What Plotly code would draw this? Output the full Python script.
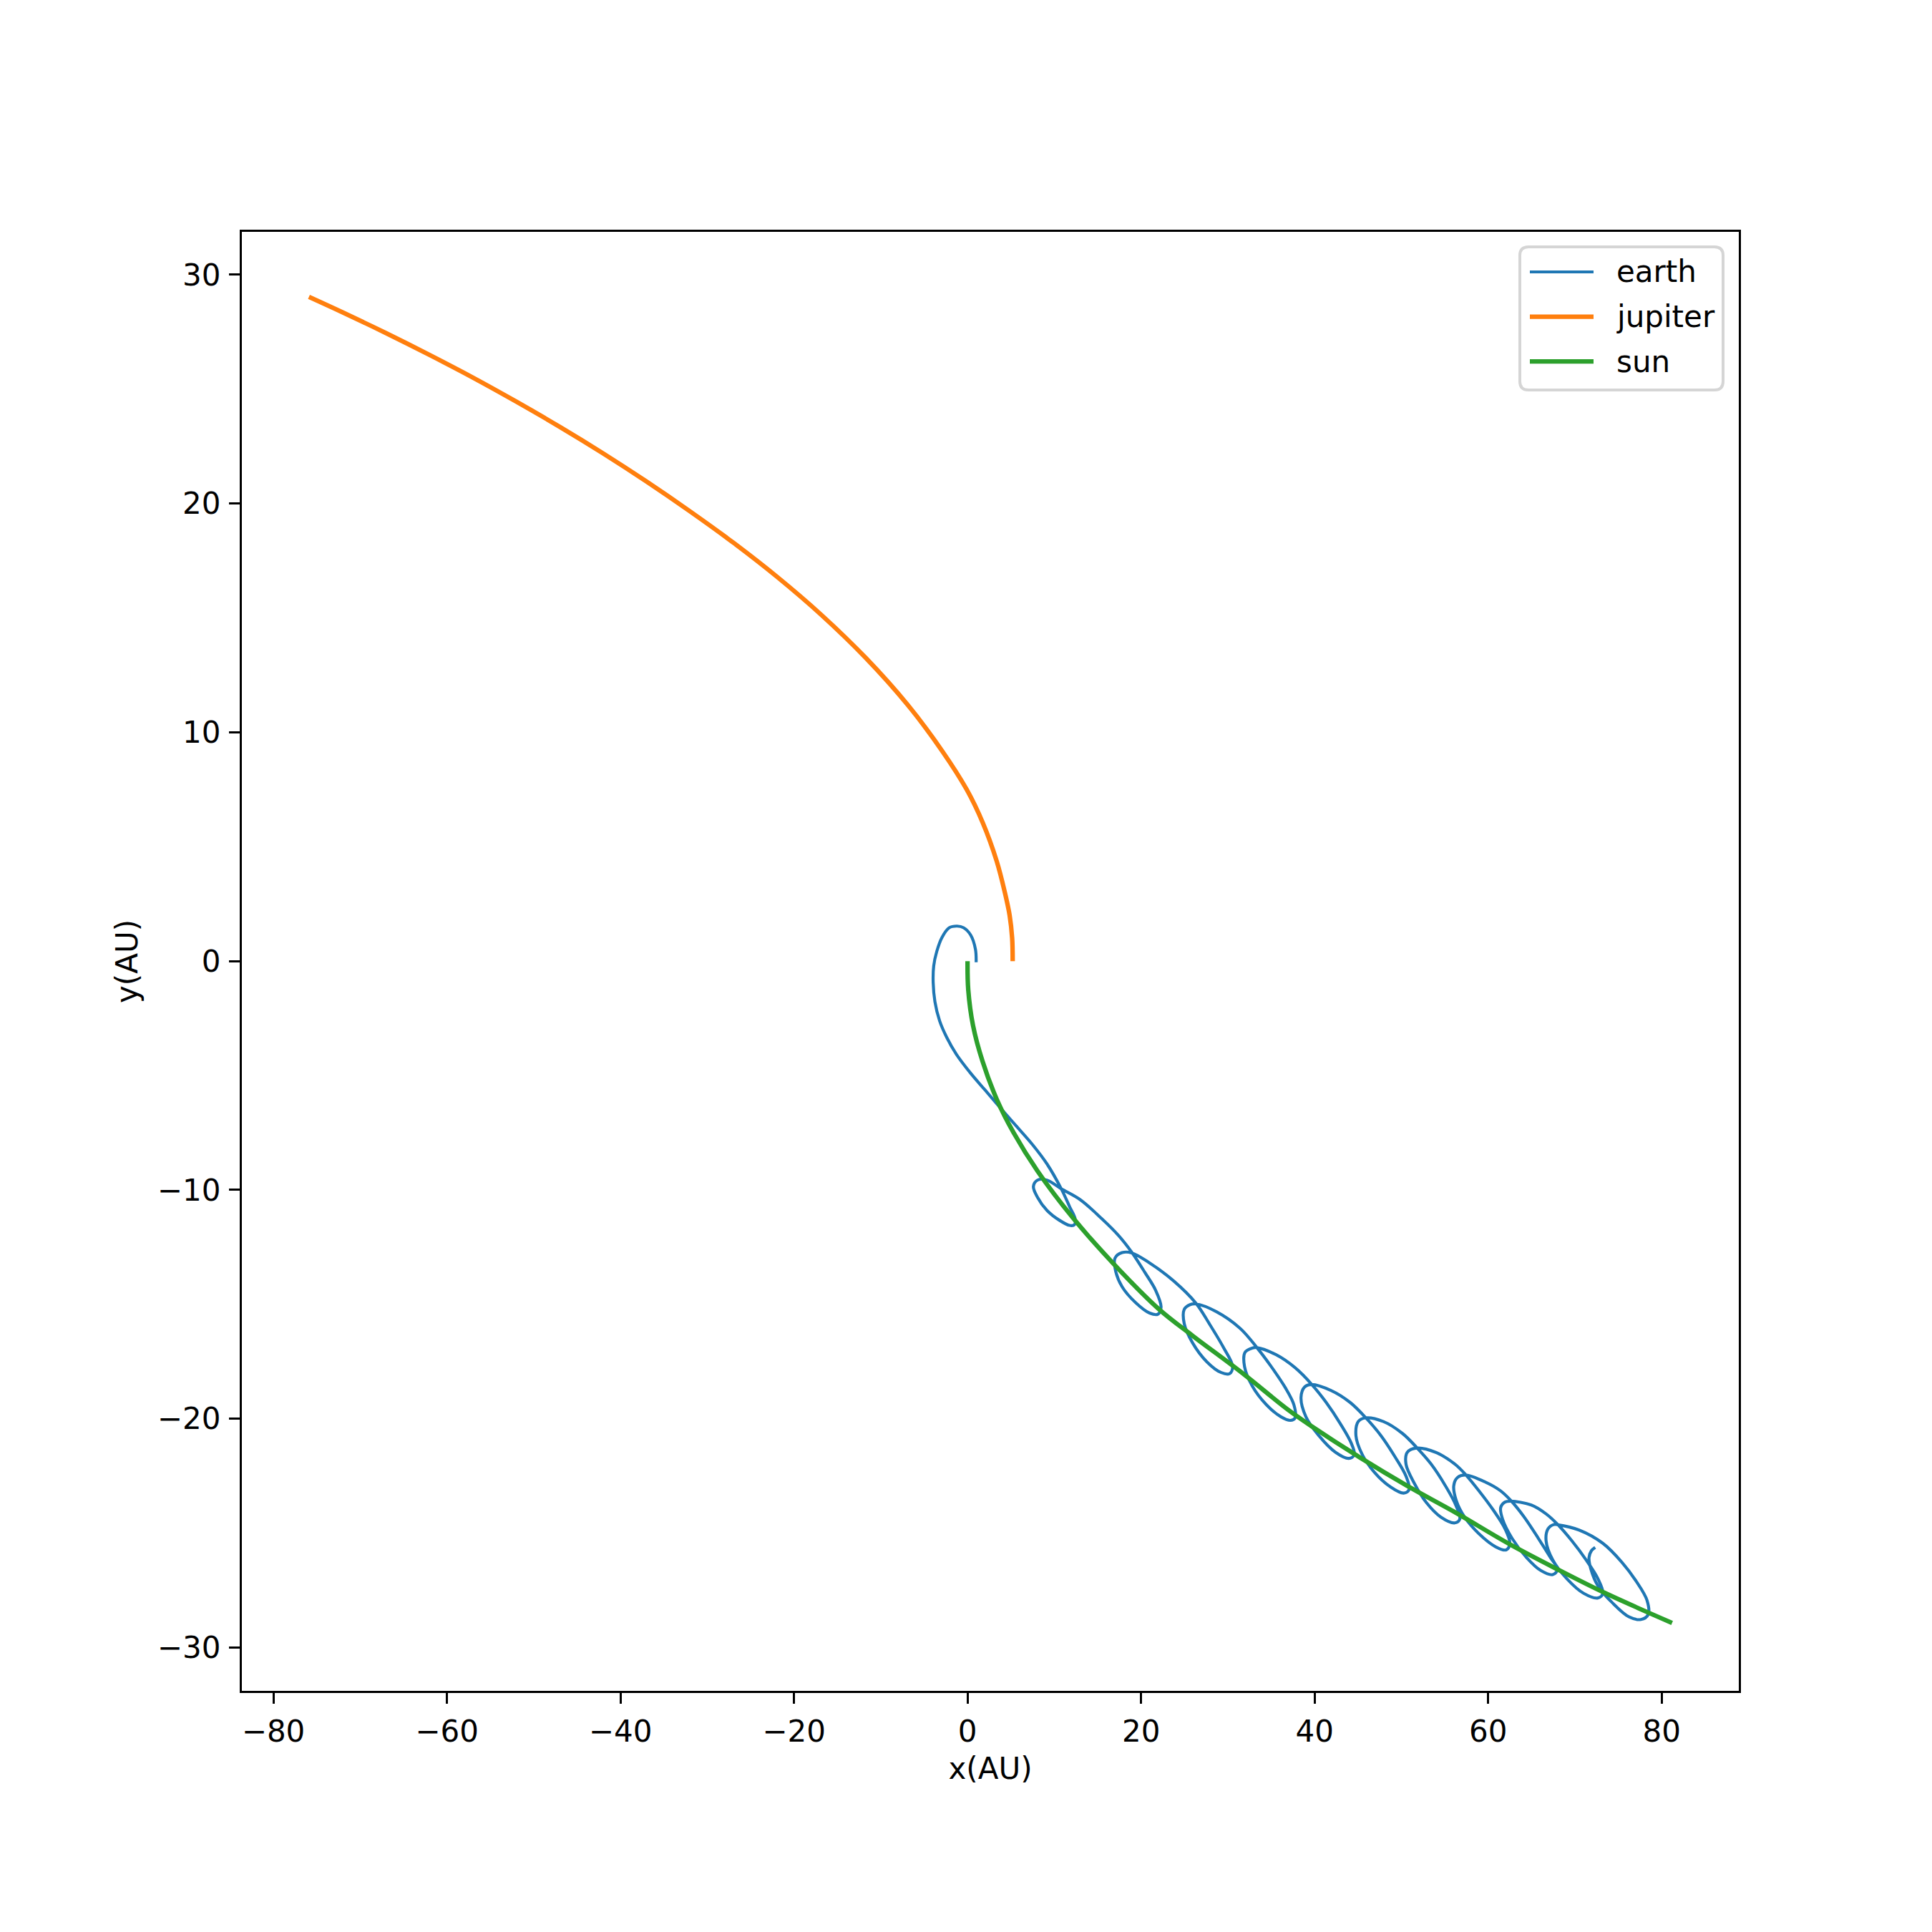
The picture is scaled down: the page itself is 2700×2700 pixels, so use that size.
import plotly.graph_objects as go

# ---------------- data (AU) ----------------
sun_x = [0.0, 0.08, 0.63, 1.73, 3.38, 5.31, 8.06, 12.1, 16.86, 22.08, 25.93, 31.42,
         36.92, 39.67, 45.17, 50.67, 56.16, 62.47, 67.99, 73.49, 81.19]
sun_y = [0.0, -1.25, -2.81, -4.38, -6.05, -7.50, -9.17, -11.2, -13.24, -15.22, -16.37, -17.93,
         -19.6, -20.33, -21.68, -22.93, -24.08, -25.48, -26.58, -27.62, -28.92]

jupiter_x = [5.2, 5.14, 4.85, 4.3, 3.35, 1.75, -0.1, -2.9, -6.9, -11.7, -16.9, -22.0,
             -27.0, -32.0, -37.0, -42.0, -47.0, -52.0, -57.0, -62.0, -67.0, -72.0, -75.9]
jupiter_y = [0.0, 1.0, 2.0, 3.0, 4.38, 6.05, 7.5, 9.17, 11.2, 13.24, 15.15, 16.81,
             18.29, 19.66, 20.96, 22.19, 23.35, 24.45, 25.50, 26.49, 27.44, 28.35, 29.03]

earth_x = [0.99, 0.91, 0.36, -0.46, -1.2, -2.11, -2.94, -3.55, -3.90, -3.96, -3.76, -3.22, -2.39,
           -1.29, 0.36, 2.01, 3.66, 5.58, 7.51, 9.15, 10.80,
           11.77, 12.40, 12.32, 11.77, 10.53, 9.15, 8.06, 7.59, 8.06, 9.15, 10.80, 13.0, 15.48, 17.40, 18.92,
           20.43, 21.67, 22.30, 21.94, 20.98, 19.33, 17.81, 17.07, 16.99, 17.81, 18.92, 20.98, 23.73, 26.34,
           27.85, 29.50, 30.55, 30.19, 29.23, 27.58, 25.93, 24.97, 24.97, 25.65, 26.34, 28.68, 31.42, 33.35,
           35.0, 36.65, 37.61, 37.75, 37.2, 36.1, 34.45, 32.80, 31.92, 31.97, 32.80, 33.35, 35.55, 37.75, 39.67,
           41.32, 42.97, 44.21, 44.57, 43.93, 42.42, 40.49, 38.99, 38.43, 38.85, 39.67, 41.87, 44.07, 45.86,
           47.65, 49.29, 50.53, 50.89, 50.26, 48.74, 46.82, 45.44, 44.76, 45.03, 45.86, 47.92, 50.12, 51.77,
           53.42, 55.07, 56.31, 56.72, 56.16, 54.52, 52.87, 51.50, 50.53, 50.67, 51.77, 53.97, 56.16, 57.40,
           58.92, 60.57, 61.94, 62.49, 62.08, 60.84, 58.92, 57.27, 56.31, 56.03, 56.45, 57.40, 59.74, 61.39, 62.63,
           64.14, 65.79, 67.17, 67.99, 67.44, 66.06, 64.41, 62.76, 61.66, 61.44, 61.94, 62.63, 64.96, 66.61, 67.99,
           69.64, 71.29, 72.66, 73.21, 72.66, 71.01, 69.09, 67.44, 66.67, 66.89, 67.58, 67.99, 70.47, 73.21,
           75.41, 77.06, 78.30, 78.43, 77.61, 76.24, 74.31, 72.66, 71.84, 71.62, 71.89, 72.33]
earth_y = [-0.05, 0.52, 1.14, 1.46, 1.53, 1.46, 1.04, 0.42, -0.21, -0.94, -1.77, -2.61, -3.34,
           -4.07, -4.90, -5.63, -6.36, -7.19, -8.03, -8.86, -9.95,
           -10.74, -11.26, -11.52, -11.55, -11.31, -10.89, -10.32, -9.85, -9.57, -9.57, -9.95, -10.43, -11.26, -11.99, -12.72,
           -13.60, -14.38, -15.12, -15.43, -15.38, -14.91, -14.23, -13.55, -12.98, -12.74, -12.75, -13.19, -13.97, -14.96,
           -15.84, -16.89, -17.72, -18.03, -17.98, -17.51, -16.68, -15.84, -15.22, -15.01, -14.98, -15.32, -16.05, -16.89,
           -17.72, -18.66, -19.39, -19.96, -20.07, -19.91, -19.39, -18.56, -17.72, -17.10, -16.91, -16.89, -17.20, -17.77, -18.50,
           -19.28, -20.22, -21.06, -21.58, -21.73, -21.47, -20.74, -19.91, -19.07, -18.61, -18.50, -18.76, -19.28, -19.94,
           -20.74, -21.68, -22.51, -23.09, -23.25, -22.98, -22.31, -21.53, -20.74, -20.12, -19.96, -20.12, -20.64, -21.26,
           -21.98, -22.93, -23.81, -24.39, -24.55, -24.29, -23.66, -22.83, -21.99, -21.47, -21.28, -21.47, -21.98, -22.44,
           -23.14, -23.98, -24.81, -25.44, -25.73, -25.59, -25.02, -24.29, -23.56, -22.93, -22.57, -22.46, -22.78, -23.14, -23.58,
           -24.29, -25.23, -26.06, -26.58, -26.81, -26.63, -26.06, -25.23, -24.39, -23.88, -23.64, -23.60, -23.77, -24.14, -24.61,
           -25.33, -26.17, -27.00, -27.63, -27.83, -27.63, -27.00, -26.17, -25.33, -24.81, -24.62, -24.63, -24.86, -25.44,
           -26.27, -27.10, -27.93, -28.56, -28.77, -28.66, -28.04, -27.31, -26.58, -26.06, -25.77, -25.62]

series_names = ["earth", "jupiter", "sun"]
series_colors = ["#1f77b4", "#ff7f0e", "#2ca02c"]
x_ticks = [-80, -60, -40, -20, 0, 20, 40, 60, 80]
y_ticks = [-30, -20, -10, 0, 10, 20, 30]

# ---------------- figure ----------------
# The page body has an 8px margin, so the figure is sized to fill the 2700px window exactly.
OFF = 8
W, H = 2700 - OFF, 2700 - OFF
L, T = 338 - OFF, 324 - OFF
R = OFF + W - 2430
B = OFF + H - 2363
PW, PH = W - L - R, H - T - B
FONT = "DejaVu Sans"


def px(X):
    # window pixel -> paper coordinate
    return (X - OFF - L) / PW


def py(Y):
    return (OFF + H - B - Y) / PH


fig = go.Figure()
widths = [4.2, 6.25, 6.25]
for name, xs, ys, col, lw in zip(series_names, [earth_x, jupiter_x, sun_x],
                                 [earth_y, jupiter_y, sun_y], series_colors, widths):
    fig.add_trace(go.Scatter(x=xs, y=ys, mode="lines", name=name,
                             line=dict(color=col, width=lw, shape="spline", smoothing=1.0),
                             showlegend=False))

axis_common = dict(showgrid=False, zeroline=False, showline=True, linecolor="black",
                   linewidth=3.3, mirror=True, ticks="outside", ticklen=15, tickwidth=3.3,
                   tickcolor="black", tickfont=dict(family=FONT, size=42, color="black"))
fig.update_xaxes(range=[-83.63, 88.88], tickvals=x_ticks, **axis_common,
                 ticklabelstandoff=2,
                 title=dict(text="x(AU)", font=dict(family=FONT, size=42, color="black"), standoff=15))
fig.update_yaxes(range=[-31.89, 31.87], tickvals=y_ticks, **axis_common,
                 ticklabelstandoff=3,
                 title=dict(text="y(AU)", font=dict(family=FONT, size=42, color="black"), standoff=15))

# ---------------- legend (drawn like matplotlib's) ----------------
x0, x1, y0, y1 = 2124, 2408, 345, 545
r = 12
rx, ry = r / PW, r / PH
X0, X1, Y0, Y1 = px(x0), px(x1), py(y1), py(y0)
path = (f"M {X0+rx},{Y0} L {X1-rx},{Y0} Q {X1},{Y0} {X1},{Y0+ry} L {X1},{Y1-ry} "
        f"Q {X1},{Y1} {X1-rx},{Y1} L {X0+rx},{Y1} Q {X0},{Y1} {X0},{Y1-ry} L {X0},{Y0+ry} "
        f"Q {X0},{Y0} {X0+rx},{Y0} Z")
shapes = [dict(type="path", path=path, xref="paper", yref="paper",
               line=dict(color="#d5d5d5", width=4), fillcolor="rgba(255,255,255,0.8)", layer="above")]
annotations = []
entry_y = [380, 442.7, 505]
for name, col, lw, ey in zip(series_names, series_colors, widths, entry_y):
    shapes.append(dict(type="line", xref="paper", yref="paper", x0=px(2138), x1=px(2227),
                       y0=py(ey), y1=py(ey), line=dict(color=col, width=lw), layer="above"))
    annotations.append(dict(text=name, xref="paper", yref="paper", x=px(2257), y=py(ey),
                            xanchor="left", yanchor="middle", showarrow=False,
                            font=dict(family=FONT, size=42, color="black")))

fig.update_layout(width=W, height=H, margin=dict(l=L, r=R, t=T, b=B, pad=0),
                  plot_bgcolor="white", paper_bgcolor="white",
                  shapes=shapes, annotations=annotations,
                  font=dict(family=FONT, size=42, color="black"))

fig.write_html("out.html")
